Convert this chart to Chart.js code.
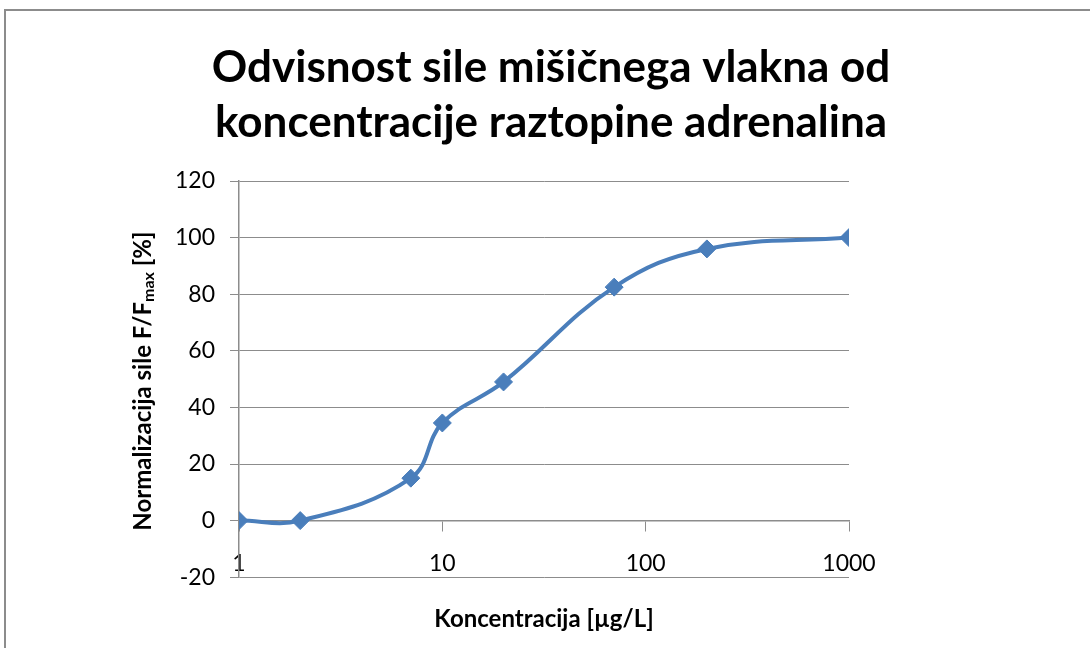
<!DOCTYPE html>
<html>
<head>
<meta charset="utf-8">
<script src="https://cdn.jsdelivr.net/npm/chart.js@4"></script>
<style>
  html, body { margin: 0; padding: 0; background: #fff; overflow: hidden; }
  #frame {
    position: absolute; left: 4px; top: 9px;
    width: 1200px; height: 800px;
    border: 2px solid #8c8c8c;
  }
  #wrap { position: absolute; left: 0; top: 0; width: 1090px; height: 648px; }
</style>
</head>
<body>
<div id="frame"></div>
<div id="wrap"><canvas id="chart" width="1090" height="648"></canvas></div>
<script>
// Data
const concentrations = [1, 2, 7, 10, 20, 70, 200, 1000]; // µg/L
const forces = [0, 0, 15, 34.5, 49, 82.5, 96, 100];       // F/Fmax [%]
const xTicks = [1, 10, 100, 1000];
const yTicks = [-20, 0, 20, 40, 60, 80, 100, 120];

const titleLines = ['Odvisnost sile mišičnega vlakna od', 'koncentracije raztopine adrenalina'];
const xTitle = 'Koncentracija [µg/L]';

const FONT = 'Lato, "Open Sans", sans-serif';
const gridColor = '#8c8c8c';
const lineColor = '#4a7ebb';

// y-axis title with the subscript "max"
const yTitlePlugin = {
  id: 'yTitle',
  afterDraw(chart) {
    const ctx = chart.ctx;
    const area = chart.chartArea;
    const parts = [
      { t: 'Normalizacija sile F/F', size: 24, dy: 0 },
      { t: 'max', size: 16, dy: 6 },
      { t: ' [%]', size: 24, dy: 0 }
    ];
    ctx.save();
    ctx.fillStyle = '#000';
    ctx.textBaseline = 'middle';
    ctx.textAlign = 'left';
    let total = 0;
    parts.forEach(p => {
      ctx.font = 'bold ' + p.size + 'px ' + FONT;
      p.w = ctx.measureText(p.t).width;
      total += p.w;
    });
    ctx.translate(area.left - 96, (area.top + area.bottom) / 2 + 2);
    ctx.rotate(-Math.PI / 2);
    let x = -total / 2;
    parts.forEach(p => {
      ctx.font = 'bold ' + p.size + 'px ' + FONT;
      ctx.fillText(p.t, x, p.dy);
      x += p.w;
    });
    ctx.restore();
  }
};

const ctx = document.getElementById('chart').getContext('2d');
new Chart(ctx, {
  type: 'line',
  data: {
    datasets: [{
      data: concentrations.map((c, i) => ({ x: c, y: forces[i] })),
      borderColor: lineColor,
      backgroundColor: lineColor,
      borderWidth: 4,
      tension: 0.4,
      pointStyle: 'rectRot',
      pointRadius: 9,
      pointBorderWidth: 1,
      pointBorderColor: lineColor,
      pointBackgroundColor: lineColor,
      fill: false
    }]
  },
  options: {
    responsive: false,
    animation: false,
    layout: { padding: { left: 12, right: 0, top: 0, bottom: 0 } },
    plugins: {
      legend: { display: false },
      tooltip: { enabled: false },
      title: {
        display: true,
        text: titleLines,
        color: '#000',
        font: { family: FONT, size: 44, weight: 'bold', lineHeight: 1.25 },
        padding: { top: 40, bottom: 31 }
      },
      subtitle: {
        display: true,
        position: 'bottom',
        fullSize: false,
        text: xTitle,
        color: '#000',
        font: { family: FONT, size: 24, weight: 'bold', lineHeight: 1.2 },
        padding: { top: 28, bottom: 14 }
      }
    },
    scales: {
      x: {
        type: 'logarithmic',
        position: { y: 0 },
        min: xTicks[0],
        max: xTicks[xTicks.length - 1],
        afterBuildTicks: s => { s.ticks = xTicks.map(v => ({ value: v })); },
        ticks: {
          color: '#000',
          font: { family: FONT, size: 23 },
          padding: 19,
          maxRotation: 0,
          autoSkip: false,
          callback: v => String(v)
        },
        grid: { drawOnChartArea: false, drawTicks: true, tickLength: 10, color: gridColor, lineWidth: 1 },
        border: { display: true, color: gridColor, width: 1.5 }
      },
      y: {
        min: yTicks[0],
        max: yTicks[yTicks.length - 1],
        afterBuildTicks: s => { s.ticks = yTicks.map(v => ({ value: v })); },
        afterFit: s => { s.width = 227; },
        ticks: {
          color: '#000',
          font: { family: FONT, size: 23 },
          padding: 15
        },
        grid: { color: gridColor, lineWidth: 1, tickLength: 9 },
        border: { display: true, color: gridColor, width: 1.5 }
      },
      // empty right-hand margin so the plot ends where the reference's does
      margin: {
        type: 'linear',
        position: 'right',
        display: true,
        afterFit: s => { s.width = 241; },
        ticks: { display: false },
        grid: { display: false, drawTicks: false },
        border: { display: false }
      }
    }
  },
  plugins: [yTitlePlugin]
});
</script>
</body>
</html>
